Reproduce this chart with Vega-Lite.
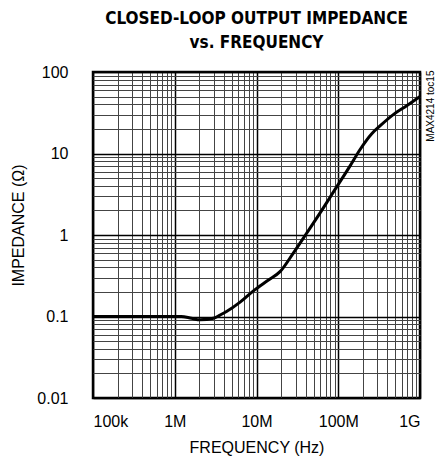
{
  "$schema": "https://vega.github.io/schema/vega-lite/v6.json",
  "autosize": {"type": "none"},
  "padding": {"left": 93, "top": 72, "right": 27, "bottom": 58},
  "width": 327,
  "height": 326,
  "background": "white",
  "title": {
    "text": ["CLOSED-LOOP OUTPUT IMPEDANCE", "vs. FREQUENCY"],
    "font": "DejaVu Sans Condensed, Liberation Sans",
    "fontWeight": "bold",
    "fontSize": 17,
    "lineHeight": 24,
    "color": "black",
    "anchor": "middle",
    "offset": 12
  },
  "config": {
    "view": {"stroke": "black", "strokeWidth": 2.5},
    "axis": {
      "labelFont": "Liberation Sans",
      "titleFont": "Liberation Sans",
      "labelColor": "black",
      "titleColor": "black",
      "titleFontWeight": "normal",
      "domain": false,
      "ticks": false
    }
  },
  "data": {
    "values": [
      {"f": 100000, "z": 0.1},
      {"f": 500000, "z": 0.1},
      {"f": 1200000, "z": 0.1},
      {"f": 1600000, "z": 0.095},
      {"f": 2040000, "z": 0.091},
      {"f": 2970000, "z": 0.095},
      {"f": 3570000, "z": 0.104},
      {"f": 4300000, "z": 0.115},
      {"f": 6300000, "z": 0.15},
      {"f": 9100000, "z": 0.205},
      {"f": 14000000, "z": 0.28},
      {"f": 19400000, "z": 0.355},
      {"f": 28200000, "z": 0.6},
      {"f": 41000000, "z": 1.05},
      {"f": 60000000, "z": 1.87},
      {"f": 91000000, "z": 3.6},
      {"f": 139000000, "z": 7.0},
      {"f": 185000000, "z": 11.2},
      {"f": 257000000, "z": 17.5},
      {"f": 324000000, "z": 21.8},
      {"f": 471000000, "z": 30},
      {"f": 687000000, "z": 38.5},
      {"f": 1000000000, "z": 50}
    ]
  },
  "resolve": {"axis": {"y": "independent"}},
  "layer": [
    {
      "mark": {"type": "line", "color": "black", "strokeWidth": 3, "interpolate": "monotone"},
      "encoding": {
        "x": {
          "field": "f",
          "type": "quantitative",
          "scale": {"type": "log", "domain": [100000, 1000000000], "nice": false},
          "axis": {
            "title": "FREQUENCY (Hz)",
            "titleFontSize": 16,
            "titlePadding": 10,
            "labelFontSize": 16,
            "labelPadding": 15,
            "labelOverlap": false,
            "values": [100000,200000,300000,400000,500000,600000,700000,800000,900000,
                       1000000,2000000,3000000,4000000,5000000,6000000,7000000,8000000,9000000,
                       10000000,20000000,30000000,40000000,50000000,60000000,70000000,80000000,90000000,
                       100000000,200000000,300000000,400000000,500000000,600000000,700000000,800000000,900000000,
                       1000000000],
            "labelExpr": "datum.value == 100000 ? '100k' : datum.value == 1000000 ? '1M' : datum.value == 10000000 ? '10M' : datum.value == 100000000 ? '100M' : datum.value == 1000000000 ? '1G' : ''",
            "grid": true,
            "gridColor": {"condition": {"test": "abs(log(datum.value)/LN10 - round(log(datum.value)/LN10)) < 0.001", "value": "black"}, "value": "#444"},
            "gridWidth": {"condition": {"test": "abs(log(datum.value)/LN10 - round(log(datum.value)/LN10)) < 0.001", "value": 1.5}, "value": 1},
            "gridOpacity": 1
          }
        },
        "y": {
          "field": "z",
          "type": "quantitative",
          "scale": {"type": "log", "domain": [0.01, 100], "nice": false},
          "axis": {
            "title": "IMPEDANCE (Ω)",
            "titleFontSize": 16,
            "titleX": -67,
            "titleY": 153,
            "labelFontSize": 16,
            "labelPadding": 25,
            "labelOverlap": false,
            "values": [0.01,0.02,0.03,0.04,0.05,0.06,0.07,0.08,0.09,
                       0.1,0.2,0.3,0.4,0.5,0.6,0.7,0.8,0.9,
                       1,2,3,4,5,6,7,8,9,
                       10,20,30,40,50,60,70,80,90,100],
            "labelExpr": "datum.value == 0.01 ? '0.01' : datum.value == 0.1 ? '0.1' : datum.value == 1 ? '1' : datum.value == 10 ? '10' : datum.value == 100 ? '100' : ''",
            "grid": true,
            "gridColor": {"condition": {"test": "abs(log(datum.value)/LN10 - round(log(datum.value)/LN10)) < 0.001", "value": "black"}, "value": "#444"},
            "gridWidth": {"condition": {"test": "abs(log(datum.value)/LN10 - round(log(datum.value)/LN10)) < 0.001", "value": 1.5}, "value": 1},
            "gridOpacity": 1
          }
        }
      }
    },
    {
      "mark": {"type": "line", "strokeOpacity": 0},
      "encoding": {
        "x": {"field": "f", "type": "quantitative"},
        "y": {
          "field": "z",
          "type": "quantitative",
          "axis": {
            "orient": "right",
            "title": "MAX4214 toc15",
            "titleFont": "Liberation Sans",
            "titleFontSize": 10,
            "titleAngle": 270,
            "titleAlign": "right",
            "titleBaseline": "middle",
            "titleX": 10,
            "titleY": -2,
            "labels": false,
            "grid": false,
            "ticks": false,
            "domain": false
          }
        }
      }
    }
  ]
}
